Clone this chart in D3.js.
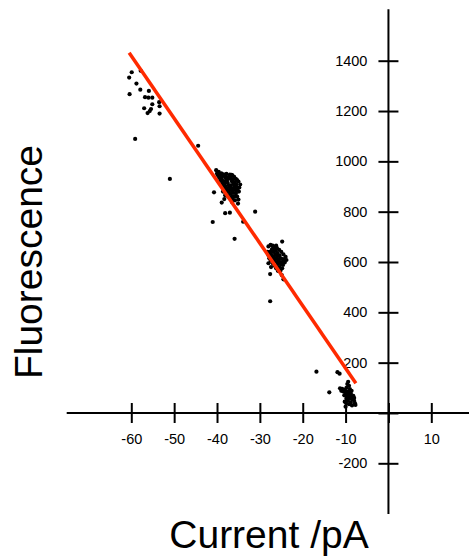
<!DOCTYPE html>
<html>
<head>
<meta charset="utf-8">
<script src="https://cdn.jsdelivr.net/npm/d3@7"></script>
<style>
  body { margin: 0; background: #fff; }
  svg { display: block; }
  .axis text { font-family: "Liberation Sans", Arial, sans-serif; font-size: 14.5px; fill: #000; }
  .axis line { stroke: #000; stroke-width: 2; }
  .title { font-family: "Liberation Sans", Arial, sans-serif; font-size: 39px; fill: #000; }
</style>
</head>
<body>
<div id="chart"></div>
<script>
// tick labels
let xTicks = [-60, -50, -40, -30, -20, -10, 0, 10];
let yTicks = [-200, 0, 200, 400, 600, 800, 1000, 1200, 1400];

// measured points [current (pA), fluorescence]
let groupA = [
    [-59.9, 1354], [-60.5, 1333], [-58.8, 1309], [-60.4, 1267], [-57.9, 1285],
    [-55.9, 1280], [-56.8, 1255], [-56.0, 1253], [-55.1, 1253], [-53.5, 1235],
    [-55.1, 1227], [-53.4, 1219], [-57.0, 1211], [-55.4, 1208], [-55.7, 1200],
    [-56.2, 1192], [-53.4, 1190], [-57.8, 1360], [-59.1, 1089]
];
let groupB = [
    [-40.2, 965], [-39.6, 958], [-39.0, 952], [-38.5, 948], [-37.8, 950], [-37.0, 947],
    [-36.4, 944], [-36.0, 938], [-35.6, 930], [-35.0, 920], [-34.6, 908], [-34.8, 896],
    [-35.2, 885], [-35.6, 872], [-35.3, 860], [-35.0, 848], [-35.1, 832], [-39.5, 935],
    [-39.2, 925], [-38.8, 915], [-38.6, 905], [-38.3, 895], [-38.0, 885], [-37.8, 875],
    [-37.6, 865], [-38.3, 850], [-37.0, 855], [-36.5, 862], [-36.2, 875], [-36.6, 885],
    [-37.0, 895], [-37.3, 905], [-37.5, 915], [-37.7, 925], [-38.0, 935], [-36.8, 930],
    [-36.5, 920], [-36.2, 910], [-35.9, 900], [-36.1, 890], [-37.2, 940], [-38.8, 940],
    [-39.8, 945], [-40.0, 952], [-37.5, 880], [-38.0, 900], [-36.8, 905], [-35.8, 845],
    [-36.5, 838], [-38.9, 930], [-38.4, 922], [-38.2, 910], [-37.9, 918], [-37.4, 932],
    [-36.9, 938], [-36.3, 928], [-35.8, 918], [-35.5, 908], [-35.4, 896], [-35.7, 886],
    [-36.9, 872], [-37.2, 885], [-37.8, 892], [-38.6, 880], [-38.1, 865], [-36.4, 850],
    [-35.9, 860], [-37.4, 860], [-36.7, 895], [-39.3, 946], [-38.1, 944], [-36.6, 946],
    [-35.3, 925], [-34.9, 880]
];
let groupC = [
    [-28.0, 662], [-27.5, 668], [-27.0, 665], [-26.5, 660], [-26.0, 655], [-25.5, 648],
    [-25.0, 640], [-24.5, 630], [-24.0, 620], [-23.8, 608], [-24.2, 598], [-24.6, 588],
    [-24.8, 575], [-25.2, 565], [-24.5, 531], [-24.9, 548], [-28.2, 640], [-28.0, 628],
    [-27.8, 615], [-27.5, 605], [-27.0, 595], [-26.6, 585], [-26.2, 575], [-25.8, 565],
    [-27.2, 650], [-26.8, 640], [-26.4, 630], [-26.0, 620], [-25.6, 610], [-25.3, 600],
    [-25.0, 590], [-26.8, 620], [-27.2, 625], [-26.3, 645], [-25.4, 625], [-25.8, 592],
    [-28.0, 595], [-27.6, 552], [-26.1, 600], [-25.5, 580], [-27.4, 580], [-27.6, 640],
    [-27.4, 630], [-27.1, 612], [-26.7, 603], [-26.4, 612], [-25.9, 635], [-25.2, 615],
    [-24.7, 612], [-24.8, 600], [-25.6, 598], [-26.9, 655], [-26.2, 665], [-24.4, 610],
    [-25.9, 578]
];
let groupD = [
    [-9.4, 124], [-9.6, 115], [-9.2, 108], [-9.8, 100], [-11.3, 98], [-10.8, 96],
    [-10.2, 92], [-9.0, 95], [-8.6, 88], [-9.5, 85], [-10.0, 80], [-8.8, 78],
    [-9.3, 72], [-10.3, 70], [-8.2, 68], [-9.0, 62], [-9.8, 58], [-8.5, 55],
    [-9.5, 50], [-8.0, 48], [-10.2, 45], [-8.8, 42], [-7.8, 38], [-9.2, 35],
    [-10.0, 25], [-7.7, 32], [-8.5, 30], [-9.6, 64], [-10.5, 85], [-8.0, 60],
    [-11.0, 88], [-9.9, 40], [-9.1, 82], [-9.7, 75], [-8.7, 65], [-9.4, 56]
];
let strays = [
    [-44.4, 1062], [-51.0, 930], [-40.7, 877], [-38.9, 836], [-38.1, 794], [-37.0, 796],
    [-41.0, 759], [-31.1, 800], [-35.9, 692], [-33.9, 760], [-24.8, 681], [-27.6, 444],
    [-13.8, 82], [-16.8, 164], [-11.9, 162], [-11.4, 156]
];

// fitted line end points
let fitX = [-60.5, -7.6];
let fitY = [1432, 118];

let width = 469, height = 556;

let svg = d3.select("#chart").append("svg")
    .attr("width", width)
    .attr("height", height);

let x = d3.scaleLinear().domain([-60, 10]).range([131.3, 431.3]);
let y = d3.scaleLinear().domain([-200, 1400]).range([463.3, 60.7]);

// axis lines crossing at the origin
svg.append("line")
    .attr("x1", 66.7).attr("x2", width)
    .attr("y1", y(0)).attr("y2", y(0))
    .attr("stroke", "#000").attr("stroke-width", 2);

svg.append("line")
    .attr("x1", x(0)).attr("x2", x(0))
    .attr("y1", 9.3).attr("y2", 514)
    .attr("stroke", "#000").attr("stroke-width", 2);

let xAxis = d3.axisBottom(x)
    .tickValues(xTicks)
    .tickSize(10)
    .tickFormat(d => d === 0 ? "" : d);

let gx = svg.append("g")
    .attr("class", "axis")
    .attr("transform", "translate(0," + y(0) + ")")
    .call(xAxis);
gx.select(".domain").remove();
gx.selectAll(".tick line").attr("y1", -10);
gx.selectAll(".tick text").attr("y", 21);

let yAxis = d3.axisLeft(y)
    .tickValues(yTicks)
    .tickSize(10)
    .tickFormat(d => d === 0 ? "" : d);

let gy = svg.append("g")
    .attr("class", "axis")
    .attr("transform", "translate(" + x(0) + ",0)")
    .call(yAxis);
gy.select(".domain").remove();
gy.selectAll(".tick line").attr("x1", 10);
gy.selectAll(".tick text").attr("x", -21);

// points
let allPoints = groupA.concat(groupB, groupC, groupD, strays);

svg.append("g")
    .selectAll("circle")
    .data(allPoints)
    .enter().append("circle")
    .attr("cx", d => x(d[0]))
    .attr("cy", d => y(d[1]))
    .attr("r", 2.1)
    .attr("fill", "#000");

// regression line
svg.append("line")
    .attr("x1", x(fitX[0])).attr("y1", y(fitY[0]))
    .attr("x2", x(fitX[1])).attr("y2", y(fitY[1]))
    .attr("stroke", "#ff2a00")
    .attr("stroke-width", 3.5);

// axis titles
svg.append("text")
    .attr("class", "title")
    .attr("transform", "translate(41.5,262) rotate(-90)")
    .attr("text-anchor", "middle")
    .text("Fluorescence");

svg.append("text")
    .attr("class", "title")
    .attr("x", 269)
    .attr("y", 548)
    .attr("text-anchor", "middle")
    .text("Current /pA");
</script>
</body>
</html>
